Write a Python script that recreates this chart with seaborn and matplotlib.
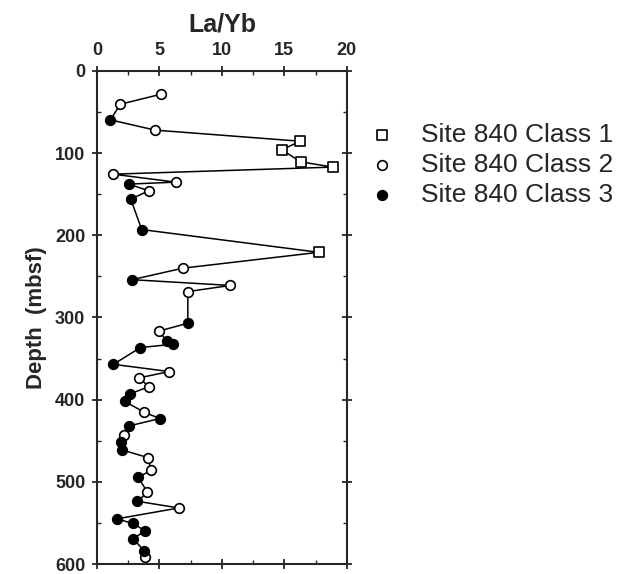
import numpy as np
import pandas as pd
import matplotlib
matplotlib.use("Agg")
import matplotlib.pyplot as plt
import seaborn as sns
from matplotlib.ticker import MultipleLocator

# La/Yb versus depth, Site 840
depth = [28.4, 40.5, 59.5, 72, 85.5, 96, 110.6, 117, 125.6, 135.3, 137.7, 145.8,
         156, 193, 220.7, 240, 254, 261, 268.5, 307, 316.5, 329, 332.5, 336.6,
         357, 365.8, 373.4, 384.4, 393, 402, 415, 423, 432, 443, 451.6, 461,
         470.5, 486, 494.5, 512.7, 523.7, 531.8, 545, 550.7, 559.5, 569.2, 584.5, 591]
la_yb = [5.1, 1.87, 1.07, 4.65, 16.26, 14.8, 16.3, 18.9, 1.28, 6.3, 2.54, 4.14,
         2.7, 3.58, 17.75, 6.87, 2.81, 10.67, 7.27, 7.27, 4.97, 5.6, 6.1, 3.48,
         1.31, 5.78, 3.4, 4.14, 2.62, 2.2, 3.74, 5.03, 2.55, 2.17, 1.94, 1.97,
         4.07, 4.33, 3.3, 4.04, 3.24, 6.55, 1.6, 2.86, 3.85, 2.9, 3.8, 3.86]
klass = [2, 2, 3, 2, 1, 1, 1, 1, 2, 2, 3, 2,
         3, 3, 1, 2, 3, 2, 2, 3, 2, 3, 3, 3,
         3, 2, 2, 2, 3, 3, 2, 3, 3, 2, 3, 3,
         2, 2, 3, 2, 3, 2, 3, 3, 3, 3, 3, 2]

class_labels = {1: "Site 840 Class 1", 2: "Site 840 Class 2", 3: "Site 840 Class 3"}
class_marker = {1: "s", 2: "o", 3: "o"}
class_face = {1: "white", 2: "white", 3: "black"}

df = pd.DataFrame({"depth": depth, "la_yb": la_yb, "klass": klass})

sns.set_style("ticks")
plt.rcParams["font.family"] = ["Liberation Sans", "DejaVu Sans"]

fig = plt.figure(figsize=(6.26, 5.74), dpi=100)
ax = fig.add_axes([0.155, 0.0174, 0.399, 0.859])

# connecting line in depth order, no aggregation
sns.lineplot(data=df, x="la_yb", y="depth", sort=False, estimator=None,
             color="black", linewidth=1.1, ax=ax, zorder=2)

for k in [1, 2, 3]:
    sub = df[df["klass"] == k]
    sns.scatterplot(data=sub, x="la_yb", y="depth", marker=class_marker[k],
                    color=class_face[k], edgecolor="black", linewidth=1.2,
                    s=48, ax=ax, zorder=3, label=class_labels[k])

ax.set_xlim(0, 20)
ax.set_ylim(600, 0)
ax.xaxis.set_major_locator(MultipleLocator(5))
ax.xaxis.set_minor_locator(MultipleLocator(2.5))
ax.yaxis.set_major_locator(MultipleLocator(100))
ax.yaxis.set_minor_locator(MultipleLocator(50))
ax.xaxis.tick_top()
ax.xaxis.set_label_position("top")
ax.tick_params(axis="both", which="major", direction="inout", length=7, width=1.3,
               labelsize=13, pad=5)
ax.tick_params(axis="both", which="minor", direction="in", length=3, width=1)
ax.tick_params(axis="x", which="both", top=True, bottom=True)
ax.tick_params(axis="y", which="both", left=True, right=True)
for lab in ax.get_xticklabels() + ax.get_yticklabels():
    lab.set_fontweight("bold")
for sp in ax.spines.values():
    sp.set_visible(True)
    sp.set_linewidth(1.5)

ax.set_xlabel("La/Yb", fontsize=18, fontweight="bold", labelpad=8)
ax.set_ylabel("Depth  (mbsf)", fontsize=16, fontweight="bold", labelpad=6)

handles, labels = ax.get_legend_handles_labels()
ax.legend(handles, labels, loc="upper left", bbox_to_anchor=(0.589, 0.785),
          bbox_transform=fig.transFigure, frameon=False, fontsize=19,
          handlelength=1.0, handletextpad=1.0, labelspacing=0.22,
          borderpad=0, borderaxespad=0)

fig.savefig("out.png", dpi=100)
